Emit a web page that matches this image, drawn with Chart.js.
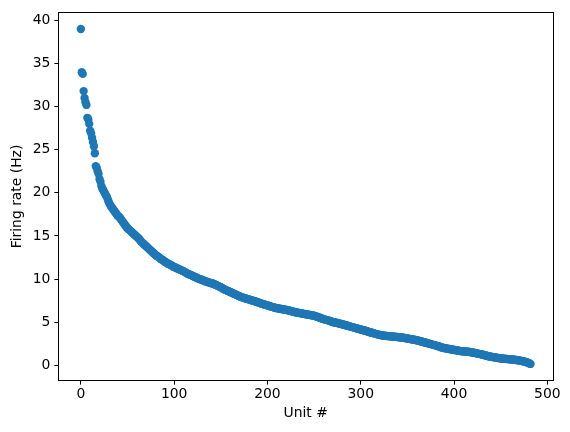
<!DOCTYPE html>
<html>
<head>
<meta charset="utf-8">
<script src="https://cdn.jsdelivr.net/npm/chart.js@4"></script>
<style>
  html, body { margin: 0; padding: 0; background: #fff; }
  canvas { display: block; }
</style>
</head>
<body>
<canvas id="rateChart" width="570" height="432"></canvas>
<script>
// Firing rate per unit, sorted high to low
const firingRates = [
  39.0, 34.0, 33.8, 31.8, 31.0, 30.5, 30.2, 28.7, 28.5, 28.0,
  27.2, 26.9, 26.4, 25.9, 25.4, 24.6, 23.1, 22.9, 22.5, 22.2,
  21.6, 21.3, 20.8, 20.5, 20.3, 20.1, 19.9, 19.7, 19.5, 19.2,
  18.9, 18.7, 18.5, 18.3, 18.2, 18.0, 17.9, 17.7, 17.6, 17.4,
  17.3, 17.2, 17.1, 16.9, 16.8, 16.6, 16.5, 16.3, 16.2, 16.0,
  15.9, 15.8, 15.7, 15.6, 15.5, 15.4, 15.3, 15.2, 15.1, 15.0,
  14.9, 14.8, 14.7, 14.6, 14.4, 14.3, 14.2, 14.1, 14.0,
  13.9, 13.8, 13.7, 13.6, 13.5, 13.4, 13.3, 13.2, 13.1, 13.0,
  12.9, 12.8, 12.7, 12.65, 12.6, 12.5, 12.4, 12.3, 12.25, 12.2,
  12.1, 12.0, 11.95, 11.9, 11.8, 11.75, 11.7, 11.65, 11.6, 11.5,
  11.45, 11.4, 11.35, 11.3, 11.25, 11.2, 11.15, 11.1, 11.05, 11.0,
  10.95, 10.9, 10.85, 10.8, 10.7, 10.65, 10.6, 10.55, 10.5,
  10.45, 10.4, 10.35, 10.3, 10.25, 10.2, 10.15, 10.1, 10.05, 10.0,
  9.98, 9.95, 9.9, 9.85, 9.8, 9.75, 9.7, 9.68, 9.65, 9.6,
  9.58, 9.55, 9.5, 9.48, 9.45, 9.4, 9.35, 9.3, 9.25, 9.2,
  9.15, 9.1, 9.05, 9.0, 8.9, 8.85, 8.8, 8.75, 8.7,
  8.65, 8.6, 8.55, 8.5, 8.45, 8.4, 8.35, 8.3, 8.25, 8.2,
  8.15, 8.1, 8.05, 8.0, 7.95, 7.9, 7.87, 7.84, 7.8, 7.77,
  7.74, 7.7, 7.67, 7.64, 7.6, 7.57, 7.54, 7.5, 7.47, 7.44,
  7.4, 7.37, 7.34, 7.3, 7.24, 7.2, 7.17, 7.14, 7.1,
  7.07, 7.04, 7.0, 6.97, 6.94, 6.9, 6.87, 6.84, 6.8, 6.77,
  6.74, 6.7, 6.67, 6.64, 6.62, 6.6, 6.58, 6.56, 6.54, 6.52,
  6.5, 6.48, 6.46, 6.44, 6.42, 6.4, 6.37, 6.34, 6.31, 6.28,
  6.25, 6.22, 6.2, 6.18, 6.14, 6.12, 6.1, 6.08, 6.06,
  6.04, 6.02, 6.0, 5.98, 5.96, 5.94, 5.92, 5.9, 5.88, 5.86,
  5.84, 5.82, 5.8, 5.78, 5.76, 5.73, 5.7, 5.67, 5.63, 5.59,
  5.55, 5.51, 5.47, 5.43, 5.39, 5.35, 5.32, 5.29, 5.26, 5.23,
  5.2, 5.17, 5.14, 5.11, 5.05, 5.02, 4.99, 4.96, 4.94,
  4.92, 4.9, 4.87, 4.84, 4.81, 4.78, 4.75, 4.72, 4.69, 4.66,
  4.63, 4.6, 4.57, 4.54, 4.51, 4.48, 4.45, 4.42, 4.39, 4.36,
  4.33, 4.3, 4.27, 4.24, 4.21, 4.18, 4.15, 4.12, 4.09, 4.06,
  4.03, 4.0, 3.97, 3.94, 3.88, 3.85, 3.82, 3.79, 3.76,
  3.73, 3.7, 3.67, 3.64, 3.61, 3.58, 3.55, 3.52, 3.5, 3.48,
  3.46, 3.44, 3.42, 3.41, 3.4, 3.39, 3.38, 3.37, 3.36, 3.35,
  3.34, 3.33, 3.32, 3.31, 3.3, 3.29, 3.28, 3.26, 3.24, 3.23,
  3.22, 3.21, 3.2, 3.19, 3.16, 3.14, 3.12, 3.1, 3.08,
  3.06, 3.04, 3.02, 3.0, 2.98, 2.96, 2.94, 2.92, 2.9, 2.87,
  2.84, 2.81, 2.78, 2.75, 2.72, 2.69, 2.66, 2.63, 2.6, 2.57,
  2.54, 2.51, 2.48, 2.45, 2.42, 2.39, 2.36, 2.33, 2.3, 2.27,
  2.24, 2.21, 2.18, 2.15, 2.09, 2.06, 2.03, 2.0, 1.98,
  1.96, 1.94, 1.92, 1.9, 1.88, 1.86, 1.84, 1.82, 1.8, 1.78,
  1.76, 1.74, 1.72, 1.7, 1.68, 1.66, 1.64, 1.63, 1.62, 1.61,
  1.6, 1.59, 1.58, 1.57, 1.56, 1.55, 1.53, 1.51, 1.49, 1.47,
  1.45, 1.43, 1.41, 1.39, 1.35, 1.33, 1.31, 1.29, 1.27,
  1.25, 1.22, 1.19, 1.16, 1.13, 1.1, 1.07, 1.04, 1.02, 1.0,
  0.98, 0.96, 0.94, 0.92, 0.9, 0.88, 0.86, 0.84, 0.82, 0.8,
  0.79, 0.78, 0.77, 0.76, 0.75, 0.74, 0.73, 0.72, 0.71, 0.7,
  0.69, 0.68, 0.67, 0.66, 0.65, 0.64, 0.62, 0.6, 0.58, 0.56,
  0.54, 0.52, 0.5, 0.48, 0.46, 0.43, 0.4, 0.37, 0.34, 0.3,
  0.26, 0.2, 0.15
];

const xTicks = [0, 100, 200, 300, 400, 500];
const yTicks = [0, 5, 10, 15, 20, 25, 30, 35, 40];

const points = firingRates.map((r, i) => ({ x: i, y: r }));

// matplotlib-style box around the axes
const frameBox = {
  id: 'frameBox',
  afterDraw(chart) {
    const a = chart.chartArea;
    const c = chart.ctx;
    c.save();
    c.strokeStyle = '#000';
    c.lineWidth = 1;
    c.strokeRect(Math.round(a.left) + 0.5, Math.round(a.top) + 0.5,
                 Math.round(a.right - a.left), Math.round(a.bottom - a.top));
    c.restore();
  }
};

const font = { family: 'DejaVu Sans', size: 13.9 };

new Chart(document.getElementById('rateChart').getContext('2d'), {
  type: 'scatter',
  data: {
    datasets: [{
      data: points,
      backgroundColor: '#1f77b4',
      borderWidth: 0,
      pointRadius: 4.2,
      pointHoverRadius: 4.2
    }]
  },
  options: {
    responsive: false,
    animation: false,
    layout: { padding: { left: 9, right: 17, top: 8, bottom: 10 } },
    plugins: { legend: { display: false }, tooltip: { enabled: false } },
    scales: {
      x: {
        type: 'linear',
        min: -24.1,
        max: 506.1,
        afterBuildTicks: (axis) => { axis.ticks = xTicks.map(v => ({ value: v })); },
        ticks: { color: '#000', font: font, padding: 1, maxRotation: 0 },
        grid: { drawOnChartArea: false, color: '#000', tickLength: 4 },
        border: { color: '#000' },
        title: { display: true, text: 'Unit #', color: '#000', font: font, padding: { top: 2, bottom: 0 } }
      },
      y: {
        type: 'linear',
        min: -1.79,
        max: 40.94,
        afterBuildTicks: (axis) => { axis.ticks = yTicks.map(v => ({ value: v })); },
        ticks: { color: '#000', font: font, padding: 4 },
        grid: { drawOnChartArea: false, color: '#000', tickLength: 4 },
        border: { color: '#000' },
        title: { display: true, text: 'Firing rate (Hz)', color: '#000', font: font, padding: { top: 0, bottom: 3 } }
      }
    }
  },
  plugins: [frameBox]
});
</script>
</body>
</html>
